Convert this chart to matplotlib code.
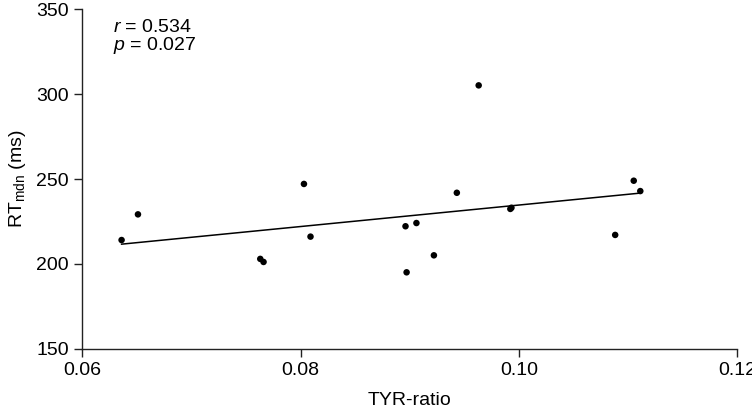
import matplotlib
matplotlib.use("Agg")
import matplotlib.pyplot as plt
import numpy as np

plt.rcParams["font.family"] = ["Liberation Sans", "DejaVu Sans"]
plt.rcParams["mathtext.fontset"] = "custom"
plt.rcParams["mathtext.rm"] = "Liberation Sans"
plt.rcParams["mathtext.it"] = "Liberation Sans:italic"

# TYR-ratio vs. median reaction time
tyr_ratio = [0.0636, 0.0651, 0.0763, 0.0766, 0.0803, 0.0809, 0.0896, 0.0897,
             0.0906, 0.0922, 0.0943, 0.0963, 0.0992, 0.0993, 0.1088, 0.1105,
             0.1111]
rt_mdn = [214.1, 229.2, 203.0, 201.2, 247.1, 216.1, 222.2, 195.1,
          224.1, 205.1, 241.9, 305.1, 232.4, 233.1, 217.1, 249.0,
          242.9]
r_text = "$\\it{r}$ = 0.534"
p_text = "$\\it{p}$ = 0.027"
x_ticks = [0.06, 0.08, 0.10, 0.12]
y_ticks = [150, 200, 250, 300, 350]

x = np.array(tyr_ratio)
y = np.array(rt_mdn)

fig = plt.figure(figsize=(7.52, 4.12), dpi=100)
ax = fig.add_axes([0.1094, 0.153, 0.8713, 0.825])

ax.scatter(x, y, s=22, c="black", edgecolors="none", zorder=3)

# least squares line over the data range
slope, icpt = np.polyfit(x, y, 1)
xl = np.array([x.min(), x.max()])
ax.plot(xl, slope * xl + icpt, color="black", lw=1.1)

ax.set_xlim(0.06, 0.12)
ax.set_ylim(150, 350)
ax.set_xticks(x_ticks)
ax.set_xticklabels(["%.2f" % v for v in x_ticks])
ax.set_yticks(y_ticks)

for side in ["top", "right"]:
    ax.spines[side].set_visible(False)
for side in ["left", "bottom"]:
    ax.spines[side].set_linewidth(1.0)
    ax.spines[side].set_color("#222222")

ax.tick_params(direction="out", length=5.5, width=1.0, color="#222222",
               labelsize=14, pad=4)

ax.set_xlabel("TYR-ratio", fontsize=14, labelpad=9)
ax.set_ylabel("RT$_\\mathregular{mdn}$ (ms)", fontsize=14, labelpad=6)

ax.text(0.0628, 339.4, r_text, fontsize=14, va="center")
ax.text(0.0628, 328.3, p_text, fontsize=14, va="center")

fig.savefig("out.png", dpi=100)
